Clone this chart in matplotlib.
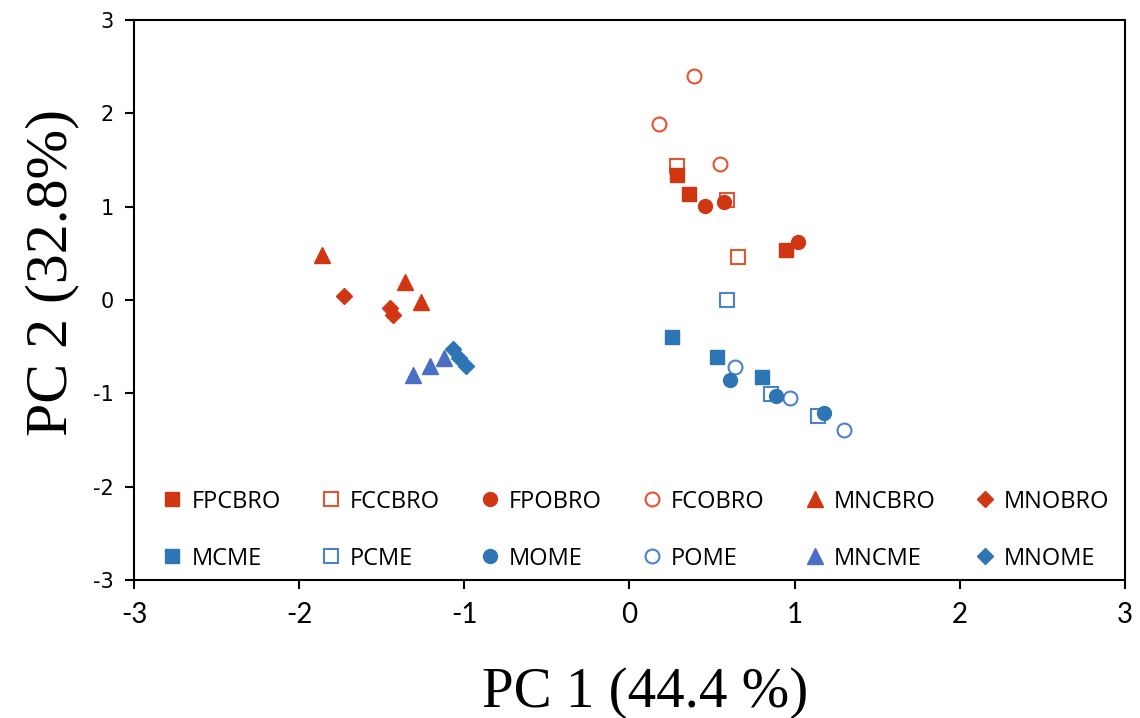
import matplotlib
matplotlib.use("Agg")
import matplotlib.pyplot as plt

plt.rcParams['axes.unicode_minus'] = False

# PCA scores per sample group (PC1, PC2)
FPCBRO_x = [0.29, 0.36, 0.95]
FPCBRO_y = [1.34, 1.14, 0.54]
FCCBRO_x = [0.29, 0.59, 0.66]
FCCBRO_y = [1.44, 1.07, 0.46]
FPOBRO_x = [0.46, 0.57, 1.02]
FPOBRO_y = [1.01, 1.05, 0.62]
FCOBRO_x = [0.39, 0.18, 0.55]
FCOBRO_y = [2.40, 1.89, 1.46]
MNCBRO_x = [-1.86, -1.36, -1.26]
MNCBRO_y = [0.48, 0.19, -0.02]
MNOBRO_x = [-1.73, -1.45, -1.43]
MNOBRO_y = [0.04, -0.09, -0.16]

MCME_x = [0.26, 0.53, 0.80]
MCME_y = [-0.40, -0.61, -0.82]
PCME_x = [0.59, 0.86, 1.14]
PCME_y = [0.00, -1.01, -1.24]
MOME_x = [0.61, 0.89, 1.18]
MOME_y = [-0.86, -1.03, -1.21]
POME_x = [0.64, 0.97, 1.30]
POME_y = [-0.72, -1.05, -1.39]
MNCME_x = [-1.31, -1.21, -1.12]
MNCME_y = [-0.80, -0.71, -0.62]
MNOME_x = [-1.07, -1.03, -0.99]
MNOME_y = [-0.52, -0.62, -0.71]

ticks = [-3, -2, -1, 0, 1, 2, 3]
tick_labels = ['-3', '-2', '-1', '0', '1', '2', '3']

red = '#D13612'
red_open = '#E2552F'
blue = '#2E75B6'
blue_open = '#4A82CC'
blue_tri = '#4B6FC4'

fig = plt.figure(figsize=(11.4, 7.18), dpi=100)
ax = fig.add_axes([0.1175, 0.1922, 0.8693, 0.7799])

def pts(x, y, label, marker, color, filled=True, ms=10):
    if filled:
        h, = ax.plot(x, y, linestyle='none', marker=marker, ms=ms,
                     color=color, mec=color, label=label)
    else:
        h, = ax.plot(x, y, linestyle='none', marker=marker, ms=ms,
                     mfc='white', mec=color, mew=1.5, label=label)
    return h

top = [
    pts(FCOBRO_x, FCOBRO_y, 'FCOBRO', 'o', red_open, False),
    pts(FCCBRO_x, FCCBRO_y, 'FCCBRO', 's', red_open, False),
    pts(FPCBRO_x, FPCBRO_y, 'FPCBRO', 's', red),
    pts(FPOBRO_x, FPOBRO_y, 'FPOBRO', 'o', red),
    pts(MNCBRO_x, MNCBRO_y, 'MNCBRO', '^', red, ms=11),
    pts(MNOBRO_x, MNOBRO_y, 'MNOBRO', 'D', red, ms=8),
]
bot = [
    pts(PCME_x, PCME_y, 'PCME', 's', blue_open, False),
    pts(POME_x, POME_y, 'POME', 'o', blue_open, False),
    pts(MCME_x, MCME_y, 'MCME', 's', blue),
    pts(MOME_x, MOME_y, 'MOME', 'o', blue),
    pts(MNCME_x, MNCME_y, 'MNCME', '^', blue_tri, ms=11),
    pts(MNOME_x, MNOME_y, 'MNOME', 'D', blue, ms=8),
]

ax.set_xlim(-3, 3)
ax.set_ylim(-3, 3)
ax.set_xticks(ticks)
ax.set_xticklabels(tick_labels)
ax.set_yticks(ticks)
ax.set_yticklabels(tick_labels)
for s in ax.spines.values():
    s.set_linewidth(1.5)
ax.tick_params(direction='out', length=6.5, width=1.5)
ax.tick_params(axis='x', pad=9, labelsize=20)
ax.tick_params(axis='y', pad=8, labelsize=15)
for t in ax.get_xticklabels():
    t.set_fontfamily('Lato')
for t in ax.get_yticklabels():
    t.set_fontfamily('DejaVu Sans')

ax.set_xlabel('PC 1 (44.4 %)', family='Liberation Serif', fontsize=41)
ax.xaxis.set_label_coords(0.516, -0.155)
ax.set_ylabel('PC 2 (32.8%)', family='Liberation Serif', fontsize=43)
ax.yaxis.set_label_coords(-0.055, 0.55)

# legend order: columns of (bro, me) pairs
by = {h.get_label(): h for h in top + bot}
order = ['FPCBRO', 'MCME', 'FCCBRO', 'PCME', 'FPOBRO', 'MOME',
         'FCOBRO', 'POME', 'MNCBRO', 'MNCME', 'MNOBRO', 'MNOME']
ax.legend([by[k] for k in order], order, ncol=6, loc='center',
          bbox_to_anchor=(0.507, 0.089), frameon=False,
          prop={'family': 'Open Sans', 'size': 17},
          handlelength=0.8, handletextpad=0.4, columnspacing=1.72,
          labelspacing=1.4, numpoints=1)

fig.savefig('out.png', dpi=100)
